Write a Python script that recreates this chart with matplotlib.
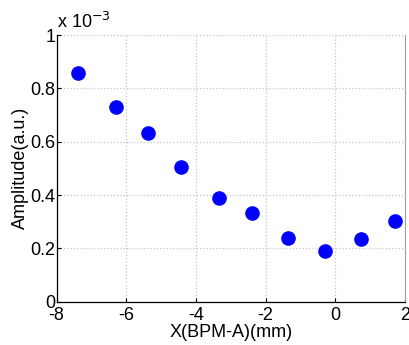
import matplotlib
matplotlib.use('Agg')
import matplotlib.pyplot as plt

# beam position (mm) and measured amplitude (a.u.)
x_pos = [-7.40, -6.31, -5.38, -4.43, -3.35, -2.40, -1.36, -0.31, 0.74, 1.70]
amp = [0.856e-3, 0.729e-3, 0.633e-3, 0.504e-3, 0.388e-3,
       0.331e-3, 0.238e-3, 0.191e-3, 0.234e-3, 0.301e-3]

x_ticks = [-8, -6, -4, -2, 0, 2]
y_ticks = [0, 0.2e-3, 0.4e-3, 0.6e-3, 0.8e-3, 1e-3]

plt.rcParams['font.family'] = ['Liberation Sans', 'DejaVu Sans']

fig = plt.figure(figsize=(4.09, 3.45), dpi=100)
ax = fig.add_axes([0.1386, 0.1255, 0.8516, 0.773])

ax.plot(x_pos, amp, 'o', color='#0000ff', markersize=9.5, zorder=3)

ax.set_xlim(-8, 2)
ax.set_ylim(0, 1e-3)
ax.set_xticks(x_ticks)
ax.set_yticks(y_ticks)
ax.set_xticklabels(['%g' % t for t in x_ticks])
ax.set_yticklabels(['%g' % round(t * 1e3, 3) for t in y_ticks])
ax.tick_params(direction='in', length=3, labelsize=13, colors='black')
ax.tick_params(axis='x', pad=4)
ax.tick_params(axis='y', pad=1)
for lbl in ax.get_yticklabels():
    lbl.set_verticalalignment('center_baseline')

ax.grid(True, linestyle=':', color='#c4c4c4', linewidth=0.9)
ax.spines['top'].set_visible(False)
ax.spines['right'].set_color('#a0a0a0')
for s in ['left', 'bottom']:
    ax.spines[s].set_color('black')
    ax.spines[s].set_linewidth(0.9)

ax.text(0.0, 1.01, r'x 10$^{-3}$', transform=ax.transAxes,
        fontsize=13, ha='left', va='bottom')

ax.set_xlabel('X(BPM-A)(mm)', fontsize=13, labelpad=0)
ax.set_ylabel('Amplitude(a.u.)', fontsize=13, labelpad=1)

fig.savefig('out.png', dpi=100)
